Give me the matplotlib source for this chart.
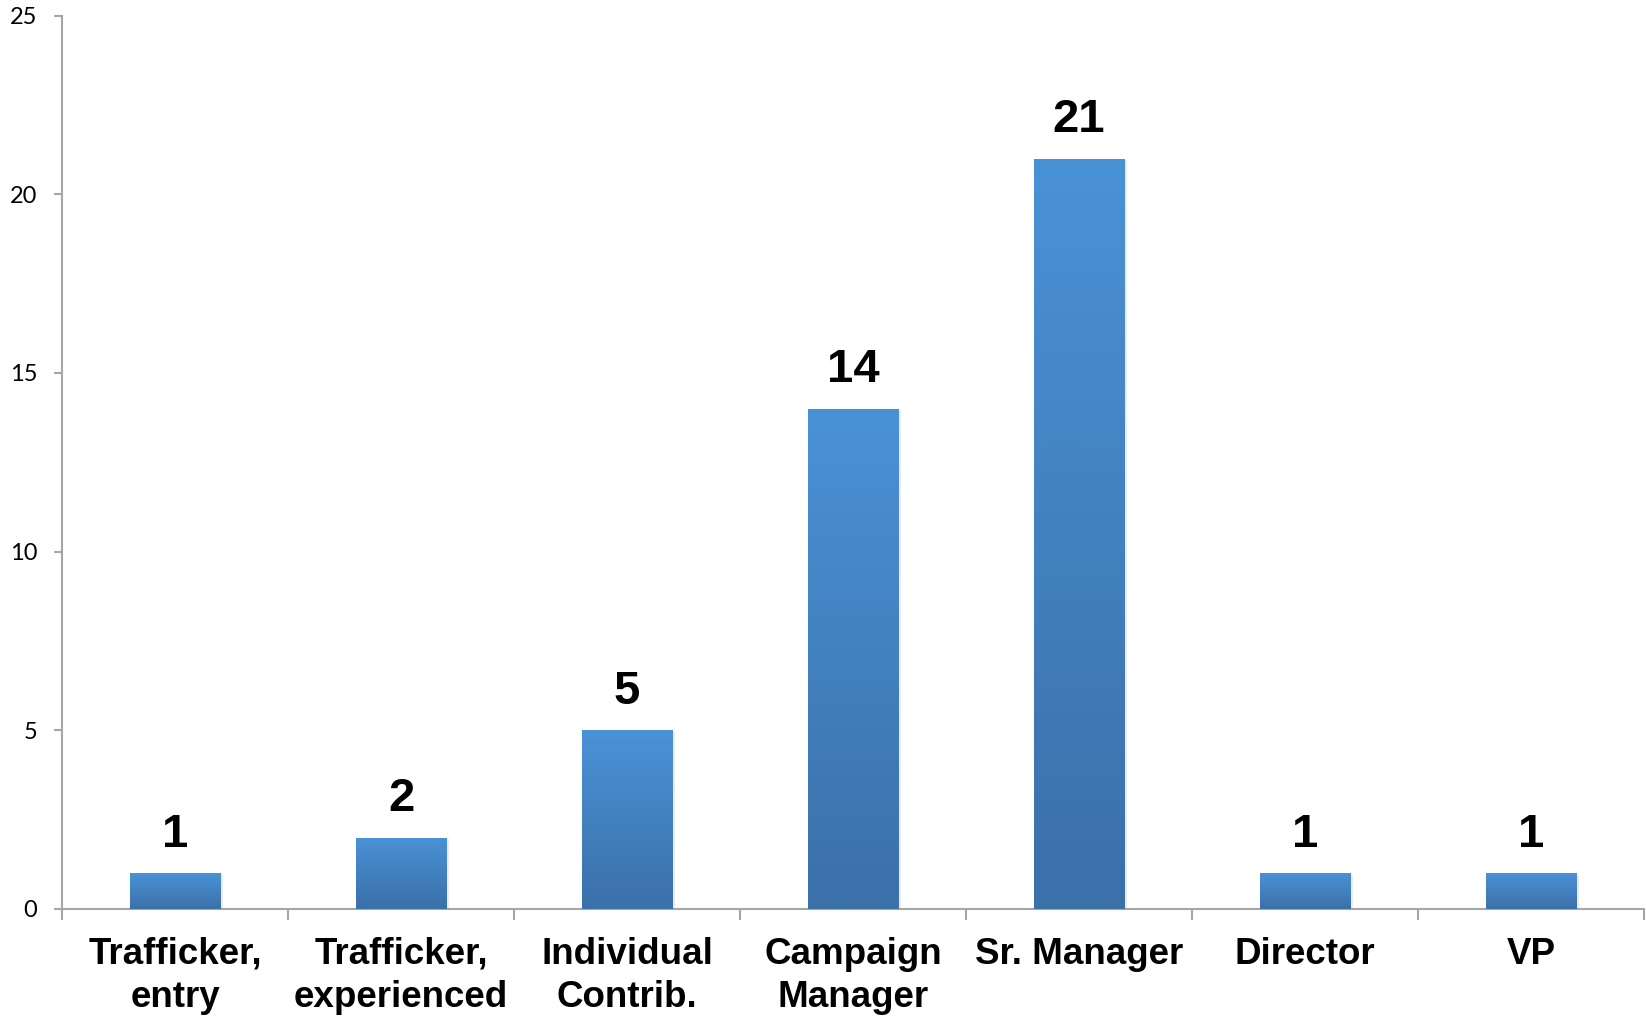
import numpy as np
import matplotlib
matplotlib.use("Agg")
import matplotlib.pyplot as plt
from matplotlib.colors import LinearSegmentedColormap

categories = ["Trafficker,\nentry", "Trafficker,\nexperienced", "Individual\nContrib.",
              "Campaign\nManager", "Sr. Manager", "Director", "VP"]
counts = [1, 2, 5, 14, 21, 1, 1]
yticks = [0, 5, 10, 15, 20, 25]

axis_grey = "#a6a6a6"
bar_cmap = LinearSegmentedColormap.from_list("bar", ["#3b70a9", "#4a92d6"])
grad = np.linspace(0, 1, 256).reshape(-1, 1)

fig = plt.figure(figsize=(16.46, 10.17), dpi=100)
ax = fig.add_axes([0.0377, 0.1062, 0.9611, 0.8784])

x = np.arange(len(categories))
bars = ax.bar(x, counts, width=0.4, color="#4a92d6", zorder=2)

# vertical gradient inside each bar
for b in bars:
    x0, y0 = b.get_x(), b.get_y()
    w, h = b.get_width(), b.get_height()
    im = ax.imshow(grad, cmap=bar_cmap, origin="lower", aspect="auto",
                   extent=(x0, x0 + w, y0, y0 + h), zorder=3)
    im.set_clip_path(b)
    # faint shadow on the right
    ax.bar(x0 + w / 2 + 0.012, h, width=w, bottom=y0 - 0.05,
           color="#000000", alpha=0.08, zorder=1)

for xi, v in zip(x, counts):
    ax.annotate(str(v), (xi, v), xytext=(0, 12), textcoords="offset points",
                ha="center", va="bottom", fontsize=34, fontweight="bold",
                family="Liberation Sans", color="black")

ax.set_xlim(-0.5, len(categories) - 0.5)
ax.set_ylim(0, 25)

ax.set_yticks(yticks)
ax.set_yticklabels([str(t) for t in yticks], fontsize=17, family="Lato")
ax.tick_params(axis="y", direction="out", length=6, width=1.5,
               color=axis_grey, pad=12)

ax.set_xticks(x)
ax.set_xticklabels(categories, fontsize=26.5, fontweight="bold",
                   family="Liberation Sans", linespacing=1.3)
ax.set_xticks(np.arange(len(categories) + 1) - 0.5, minor=True)
ax.tick_params(axis="x", which="major", length=0, pad=20)
ax.tick_params(axis="x", which="minor", direction="out", length=8,
               width=1.5, color=axis_grey)

for s in ("top", "right"):
    ax.spines[s].set_visible(False)
for s in ("left", "bottom"):
    ax.spines[s].set_color(axis_grey)
    ax.spines[s].set_linewidth(1.5)

fig.savefig("out.png", dpi=100, facecolor="white")
